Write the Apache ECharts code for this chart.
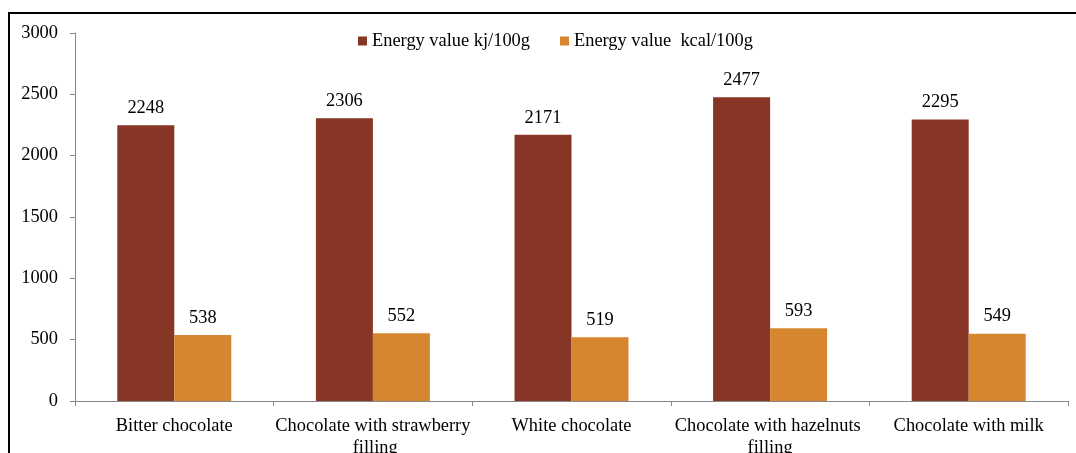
<!DOCTYPE html>
<html>
<head>
<meta charset="utf-8">
<script src="https://cdn.jsdelivr.net/npm/echarts@6/dist/echarts.min.js"></script>
<style>
html,body{margin:0;padding:0;background:#fff;}
#c{width:1076px;height:453px;}
</style>
</head>
<body>
<div id="c"></div>
<script>
const categories = ['Bitter chocolate', 'Chocolate with strawberry filling', 'White chocolate', 'Chocolate with hazelnuts filling', 'Chocolate with milk'];
const seriesNames = ['Energy value kj/100g', 'Energy value  kcal/100g'];
const kjValues = [2248, 2306, 2171, 2477, 2295];
const kcalValues = [538, 552, 519, 593, 549];
const yTicks = { min: 0, max: 3000, interval: 500 };

const font = '"Liberation Serif", "Times New Roman", serif';
const fs = 18.4;
const chart = echarts.init(document.getElementById('c'), null, { renderer: 'canvas' });
chart.setOption({
  animation: false,
  backgroundColor: '#fff',
  textStyle: { fontFamily: font },
  graphic: [
    { type: 'line', shape: { x1: 9, y1: 13, x2: 1076, y2: 13 }, style: { stroke: '#000', lineWidth: 2 } },
    { type: 'line', shape: { x1: 9, y1: 12, x2: 9, y2: 453 }, style: { stroke: '#000', lineWidth: 2 } }
  ],
  legend: {
    top: 27,
    left: 353,
    itemWidth: 9,
    itemHeight: 9,
    itemGap: 30,
    icon: 'rect',
    textStyle: { fontFamily: font, fontSize: fs, color: '#000' },
    data: seriesNames
  },
  grid: { left: 75, right: 8, top: 33, bottom: 52, containLabel: false, outerBoundsMode: 'none' },
  xAxis: {
    type: 'category',
    data: categories,
    axisLine: { lineStyle: { color: '#888', width: 1 } },
    axisTick: { show: true, length: 5, lineStyle: { color: '#888' } },
    axisLabel: {
      fontFamily: font, fontSize: fs, color: '#000', margin: 14,
      width: 198, overflow: 'break', interval: 0, lineHeight: 22
    }
  },
  yAxis: {
    type: 'value',
    min: yTicks.min, max: yTicks.max, interval: yTicks.interval,
    axisLine: { show: true, lineStyle: { color: '#888', width: 1 } },
    axisTick: { show: true, length: 5, lineStyle: { color: '#888' } },
    splitLine: { show: false },
    axisLabel: { fontFamily: font, fontSize: fs, color: '#000', margin: 17, formatter: v => String(v) }
  },
  series: [
    {
      name: seriesNames[0], type: 'bar', data: kjValues,
      barGap: '0%', barCategoryGap: '42.6%',
      itemStyle: { color: '#873524' },
      label: { show: true, position: 'top', distance: 8, fontFamily: font, fontSize: fs, color: '#000' }
    },
    {
      name: seriesNames[1], type: 'bar', data: kcalValues,
      barGap: '0%', barCategoryGap: '42.6%',
      itemStyle: { color: '#D6862F' },
      label: { show: true, position: 'top', distance: 8, fontFamily: font, fontSize: fs, color: '#000' }
    }
  ]
});
</script>
</body>
</html>
